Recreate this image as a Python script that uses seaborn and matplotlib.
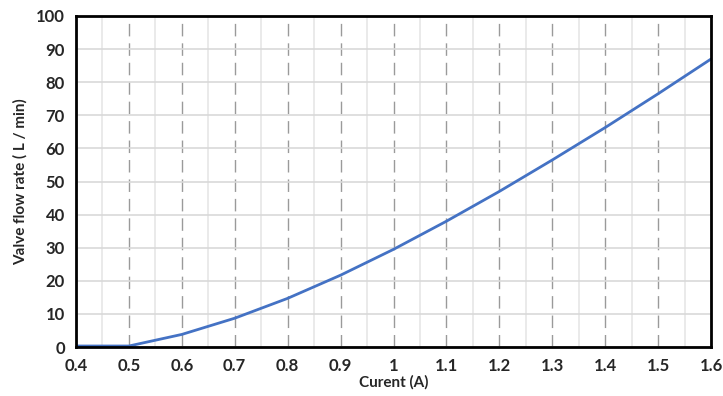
import matplotlib
matplotlib.use("Agg")
import matplotlib.pyplot as plt
import seaborn as sns
import pandas as pd
from matplotlib.ticker import MultipleLocator

current = [0.4, 0.5, 0.6, 0.7, 0.8, 0.9, 1.0, 1.1, 1.2, 1.3, 1.4, 1.5, 1.6]
flow = [0.3, 0.3, 3.8, 8.7, 14.7, 21.7, 29.5, 38.0, 47.0, 56.5, 66.3, 76.5, 87.0]
x_labels = ["0.4", "0.5", "0.6", "0.7", "0.8", "0.9", "1", "1.1", "1.2", "1.3", "1.4", "1.5", "1.6"]

df = pd.DataFrame({"current": current, "flow": flow})

sns.set_theme(style="white")
plt.rcParams['font.family'] = ['Lato', 'DejaVu Sans']

fig = plt.figure(figsize=(7.23, 3.96), dpi=100)
ax = fig.add_axes([76/723, 1 - 347/396, (711-76)/723, (347-16)/396])

# grids
ax.xaxis.set_minor_locator(MultipleLocator(0.05))
ax.grid(which='minor', axis='x', color='#e6e6e6', linewidth=1.2, linestyle='-')
ax.grid(which='major', axis='y', color='#d9d9d9', linewidth=1.2, linestyle='-')
ax.grid(which='major', axis='x', color='#9a9a9a', linewidth=1.0, linestyle=(0, (9, 5)))
ax.set_axisbelow(True)

sns.lineplot(data=df, x="current", y="flow", ax=ax, color='#4472c4', linewidth=2.0)

ax.set_xlim(0.4, 1.6)
ax.set_ylim(0, 100)
ax.set_xticks(current)
ax.set_xticklabels(x_labels)
ax.set_yticks(range(0, 101, 10))

for s in ax.spines.values():
    s.set_visible(True)
    s.set_color('black')
    s.set_linewidth(2.0)

ax.tick_params(axis='both', which='major', direction='out', length=5, width=1.5,
               color='black', labelsize=12, pad=3)
ax.tick_params(axis='x', which='minor', length=0)
for lab in ax.get_xticklabels() + ax.get_yticklabels():
    lab.set_fontweight('bold')

ax.set_xlabel("Curent (A)", fontsize=11, fontweight='bold', labelpad=1)
ax.set_ylabel("Valve flow rate ( L / min)", fontsize=11, fontweight='bold', labelpad=6)

fig.savefig("out.png", dpi=100)
